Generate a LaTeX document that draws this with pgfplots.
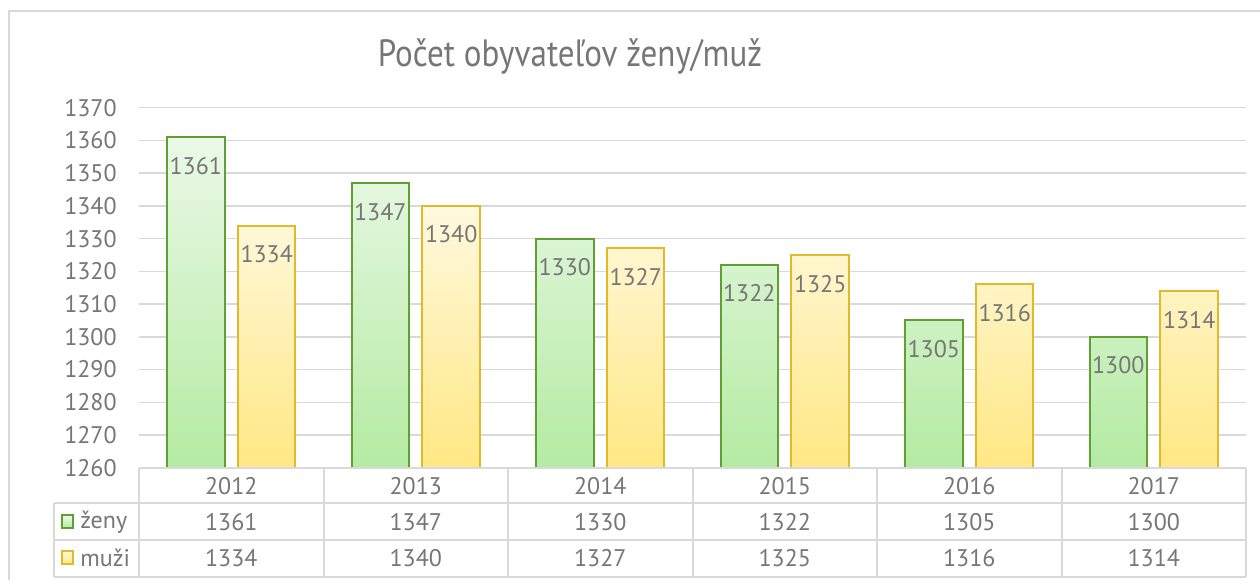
\documentclass[border=0pt]{standalone}
\usepackage{fontspec}
\setmainfont{PT Sans}
\usepackage{graphicx}
\usepackage{pgfplots}
\pgfplotsset{compat=1.18}
\definecolor{txt}{HTML}{767676}
\definecolor{gridc}{HTML}{D9D9D9}
\definecolor{gEdge}{HTML}{5FA031}
\definecolor{gTop}{HTML}{EBF9E8}
\definecolor{gBot}{HTML}{B4EBA2}
\definecolor{yEdge}{HTML}{E3B92A}
\definecolor{yTop}{HTML}{FFF9DF}
\definecolor{yBot}{HTML}{FFE884}
\begin{document}
\begin{tikzpicture}
\begin{scope}[x=0.5pt,y=-0.5pt]
\useasboundingbox (0,0) rectangle (1260,580);
\fill[white] (0,0) rectangle (1260,580);
\draw[gridc, line width=1pt] (9,580) -- (9,11) -- (1260,11);
\node[anchor=base, text=txt, font=\fontsize{19}{22}\selectfont, inner sep=0pt] at (570,66) {\scalebox{0.87}[1]{Počet obyvateľov ženy/muž}};
\end{scope}
\begin{axis}[at={(69.5pt,-233.85pt)}, anchor=south west, scale only axis,
  width=553.5pt, height=180pt,
  ymin=1260, ymax=1370, ytick distance=10,
  xmin=-0.5, xmax=5.5, xtick=\empty,
  axis line style={draw=none},
  ymajorgrids, grid style={gridc, line width=0.75pt},
  major tick length=0pt,
  yticklabel style={text=txt, font=\fontsize{12}{14}\selectfont, inner sep=0pt, xshift=-11pt},
  /pgf/number format/assume math mode=true,
  /pgf/number format/1000 sep={},
  ybar=6.7pt, bar width=28.75pt,
  nodes near coords,
  every node near coord/.append style={anchor=north, yshift=-9.5pt, inner sep=0pt, text=txt, font=\fontsize{12}{14}\selectfont},
  clip=false]
\addplot[draw=gEdge, line width=1pt, top color=gTop, bottom color=gBot]
  coordinates {(0,1361) (1,1347) (2,1330) (3,1322) (4,1305) (5,1300)};
\addplot[draw=yEdge, line width=1pt, top color=yTop, bottom color=yBot]
  coordinates {(0,1334) (1,1340) (2,1327) (3,1325) (4,1316) (5,1314)};
\end{axis}
\begin{scope}[x=0.5pt,y=-0.5pt]
\draw[gridc, line width=1pt] (139,468) -- (1246,468);
\draw[gridc, line width=1pt] (54,503) -- (1246,503);
\draw[gridc, line width=1pt] (54,540) -- (1246,540);
\draw[gridc, line width=1pt] (54,577) -- (1246,577);
\draw[gridc, line width=1pt] (54,503) -- (54,577);
\foreach \xx in {139,323.5,508,692.5,877,1061.5,1246} {\draw[gridc, line width=1pt] (\xx,468) -- (\xx,577);}
\foreach \yr/\z/\m [count=\i from 0] in {2012/1361/1334,2013/1347/1340,2014/1330/1327,2015/1322/1325,2016/1305/1316,2017/1300/1314} {
  \pgfmathsetmacro{\cx}{139+184.5*(\i+0.5)}
  \node[text=txt, font=\fontsize{12}{14}\selectfont, inner sep=0pt] at (\cx,486) {\yr};
  \node[text=txt, font=\fontsize{12}{14}\selectfont, inner sep=0pt] at (\cx,522) {\z};
  \node[text=txt, font=\fontsize{12}{14}\selectfont, inner sep=0pt] at (\cx,558) {\m};
}
\draw[draw=gEdge, line width=0.8pt, top color=gTop, bottom color=gBot] (62,515) rectangle (73,528);
\draw[draw=yEdge, line width=0.8pt, top color=yTop, bottom color=yBot] (62,551) rectangle (73,564);
\node[anchor=west, text=txt, font=\fontsize{12}{14}\selectfont, inner sep=0pt] at (80,522) {ženy};
\node[anchor=west, text=txt, font=\fontsize{12}{14}\selectfont, inner sep=0pt] at (80,558) {muži};
\end{scope}
\end{tikzpicture}
\end{document}
